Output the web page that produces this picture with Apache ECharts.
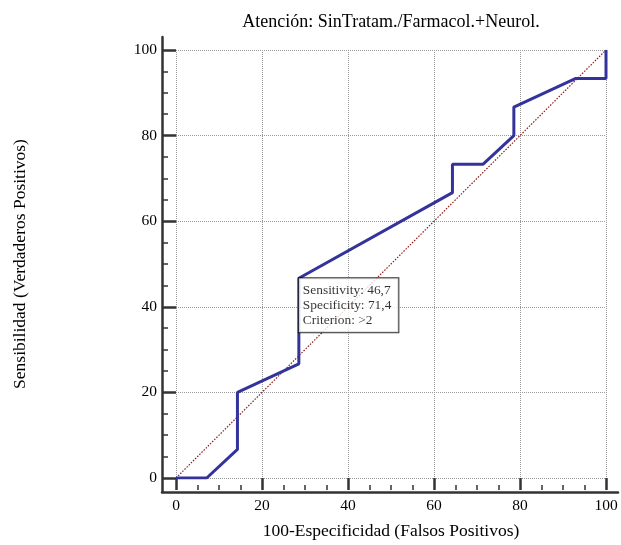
<!DOCTYPE html>
<html>
<head>
<meta charset="utf-8">
<script src="https://cdn.jsdelivr.net/npm/echarts@6/dist/echarts.min.js"></script>
<style>
html,body{margin:0;padding:0;background:#fff;}
#chart{width:621px;height:545px;}
</style>
</head>
<body>
<div id="chart"></div>
<script>
// ROC curve data (100-Specificity, Sensitivity)
const fpr = [0, 7.14, 14.29, 14.29, 28.57, 28.57, 64.29, 64.29, 71.43, 78.57, 78.57, 92.86, 100, 100];
const tpr = [0, 0, 6.67, 20, 26.67, 46.67, 66.67, 73.33, 73.33, 80, 86.67, 93.33, 93.33, 100];
// reference diagonal
const diagX = [0, 100];
const diagY = [0, 100];
// highlighted criterion point
const critIndex = 5;
const critSensitivity = '46,7';
const critSpecificity = '71,4';
const critCriterion = '>2';
// axis ticks
const axisMin = 0, axisMax = 100, axisInterval = 20;

const titleText = 'Atención: SinTratam./Farmacol.+Neurol.';
const xName = '100-Especificidad (Falsos Positivos)';
const yName = 'Sensibilidad (Verdaderos Positivos)';

const FONT = '"Liberation Serif", "DejaVu Serif", serif';
const rocData = fpr.map((x, i) => [x, tpr[i]]);
const diagData = diagX.map((x, i) => [x, diagY[i]]);

const chart = echarts.init(document.getElementById('chart'));
chart.setOption({
  animation: false,
  backgroundColor: '#fff',
  title: {
    text: titleText,
    left: 386,
    textAlign: 'center',
    top: 8,
    textStyle: {fontFamily: FONT, fontSize: 18, fontWeight: 'normal', color: '#000'}
  },
  grid: [
    {left: 176, right: 15, top: 50, bottom: 65},
    {left: 162, right: 3, top: 37, bottom: 53}
  ],
  xAxis: [{
    type: 'value', gridIndex: 0, min: axisMin, max: axisMax, interval: axisInterval,
    offset: 12,
    name: xName, nameLocation: 'middle', nameGap: 32,
    nameTextStyle: {fontFamily: FONT, fontSize: 17.5, color: '#000'},
    axisLine: {show: false, onZero: false},
    axisTick: {show: true, inside: true, length: 12, lineStyle: {color: '#333', width: 2.5}},
    minorTick: {show: true, splitNumber: 4, length: 5, lineStyle: {color: '#333', width: 1.5}},
    axisLabel: {margin: 8, fontFamily: FONT, fontSize: 15.5, color: '#000'},
    splitLine: {show: true, lineStyle: {color: '#999', type: 'dotted', width: 1}}
  }, {
    type: 'value', gridIndex: 1, min: 0, max: 1,
    axisLine: {show: true, onZero: false, lineStyle: {color: '#333', width: 2.5}},
    axisTick: {show: false}, axisLabel: {show: false}, splitLine: {show: false}
  }],
  yAxis: [{
    type: 'value', gridIndex: 0, min: axisMin, max: axisMax, interval: axisInterval,
    offset: 13,
    name: yName, nameLocation: 'middle', nameGap: 134,
    nameTextStyle: {fontFamily: FONT, fontSize: 17.5, color: '#000'},
    axisLine: {show: false, onZero: false},
    axisTick: {show: true, inside: true, length: 13, lineStyle: {color: '#333', width: 2.5}},
    minorTick: {show: true, splitNumber: 4, length: 5, lineStyle: {color: '#333', width: 1.5}},
    axisLabel: {margin: 6, fontFamily: FONT, fontSize: 15.5, color: '#000'},
    splitLine: {show: true, lineStyle: {color: '#999', type: 'dotted', width: 1}}
  }, {
    type: 'value', gridIndex: 1, min: 0, max: 1,
    axisLine: {show: true, onZero: false, lineStyle: {color: '#333', width: 2.5}},
    axisTick: {show: false}, axisLabel: {show: false}, splitLine: {show: false}
  }],
  series: [{
    type: 'line', xAxisIndex: 0, yAxisIndex: 0,
    data: diagData, showSymbol: false, symbol: 'none',
    lineStyle: {color: '#8b1a1a', width: 1.2, type: [1.5, 1.5]},
    z: 2
  }, {
    type: 'line', xAxisIndex: 0, yAxisIndex: 0,
    data: rocData, showSymbol: false, symbol: 'none',
    lineStyle: {color: '#33339b', width: 3},
    z: 3
  }, {
    type: 'scatter', xAxisIndex: 0, yAxisIndex: 0,
    data: [[fpr[critIndex], tpr[critIndex]]],
    symbolSize: 0,
    z: 5,
    label: {
      show: true,
      position: [0, 0],
      align: 'left', verticalAlign: 'top',
      formatter: 'Sensitivity: ' + critSensitivity + '\nSpecificity: ' + critSpecificity + '\nCriterion: ' + critCriterion,
      fontFamily: FONT, fontSize: 13.4, lineHeight: 15, color: '#000',
      backgroundColor: '#fff', borderColor: '#000', borderWidth: 1,
      padding: [5, 7, 4, 4]
    }
  }]
});
</script>
</body>
</html>
